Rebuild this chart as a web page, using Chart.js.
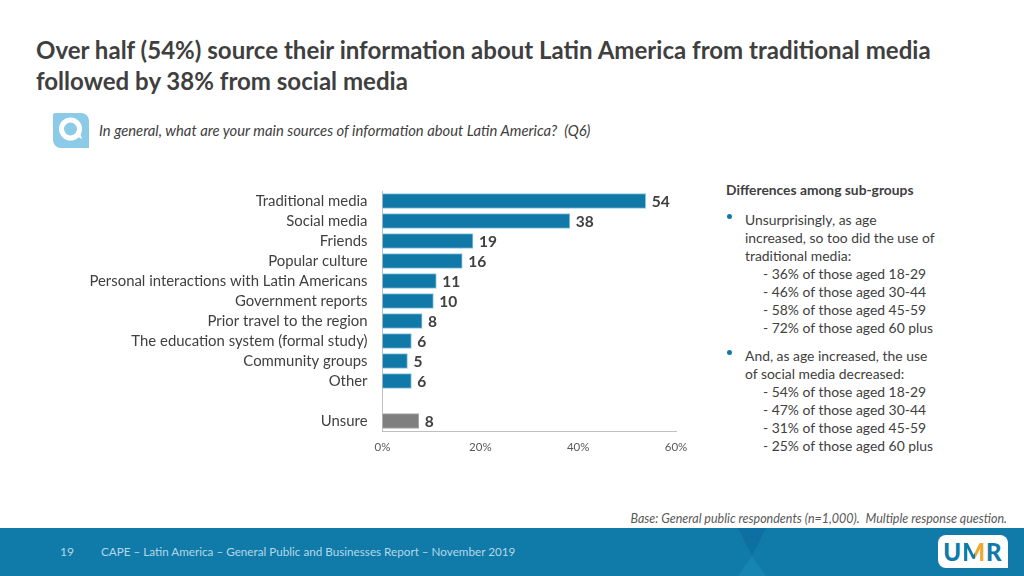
<!DOCTYPE html>
<html lang="en">

<head>
    <meta charset="UTF-8">
    <title>Latin America sources</title>
    <script src="https://cdn.jsdelivr.net/npm/chart.js"></script>
    <style>
        html, body { margin: 0; padding: 0; background: #fff; }
        body { width: 1024px; height: 576px; position: relative; overflow: hidden; font-family: Lato, sans-serif; color: #404040; }
        .abs { position: absolute; white-space: nowrap; }
        #title { left: 36px; top: 34px; font-size: 24.05px; line-height: 31px; font-weight: 700; color: #3f3f3f; }
        #question { left: 99px; top: 121px; font-size: 14.8px; font-style: italic; }
        #qicon { left: 53px; top: 113px; width: 36px; height: 35px; background: #8ccbe8; border-radius: 2px 8px 0 8px; }
        #myChart { position: absolute; left: 0; top: 180px; }
        #subhead { left: 726px; top: 181px; font-size: 13.8px; font-weight: 700; }
        .bullet { position: absolute; left: 727px; width: 5px; height: 5px; border-radius: 50%; background: #1079a8; }
        .note { position: absolute; white-space: nowrap; font-size: 13.9px; line-height: 18px; }
        #base { right: 17px; top: 511px; font-size: 12.5px; font-style: italic; color: #595959; }
        #footer { left: 0; top: 528px; width: 1024px; height: 48px; background: #107aa8; overflow: hidden; }
        #fold1 { position: absolute; left: 738px; top: 0; width: 28px; height: 28px; background: #0e6fa2; clip-path: polygon(0 0, 100% 0, 50% 100%); }
        #fold2 { position: absolute; left: 738px; top: 28px; width: 28px; height: 20px; background: #1785b2; clip-path: polygon(50% 0, 100% 100%, 0 100%); }
        #pageno { left: 60px; top: 544px; font-size: 12px; color: #b5d8e8; }
        #foottext { left: 101px; top: 544px; font-size: 11.7px; color: #b5d8e8; }
        #logo { left: 938px; top: 535px; width: 70px; height: 33px; background: #fff; border-radius: 8px 8px 0 8px; text-align: center; font-size: 24px; line-height: 33px; font-weight: 900; color: #107aa8; letter-spacing: 1px; }
        #logo span { background: linear-gradient(90deg, #107aa8 55%, #f2a72e 55%); -webkit-background-clip: text; background-clip: text; color: transparent; }
    </style>
</head>

<body>
    <div class="abs" id="title">Over half (54%) source their information about Latin America from traditional media<br>followed by 38% from social media</div>
    <div class="abs" id="qicon">
        <svg width="36" height="35" viewBox="0 0 36 35">
            <circle cx="17.5" cy="16" r="9" fill="none" stroke="#fff" stroke-width="5" />
            <path d="M21 22 L29 26 L27 20 Z" fill="#fff" />
        </svg>
    </div>
    <div class="abs" id="question">In general, what are your main sources of information about Latin America?&nbsp; (Q6)</div>

    <canvas id="myChart" width="700" height="280"></canvas>

    <div class="abs" id="subhead">Differences among sub-groups</div>
    <div class="bullet" style="top:214px"></div>
    <div class="note" id="note1" style="left:745px;top:211px"></div>
    <div class="bullet" style="top:350px"></div>
    <div class="note" id="note2" style="left:745px;top:347px"></div>

    <div class="abs" id="base">Base: General public respondents (n=1,000).&nbsp; Multiple response question.</div>
    <div class="abs" id="footer"><div id="fold1"></div><div id="fold2"></div></div>
    <div class="abs" id="pageno">19</div>
    <div class="abs" id="foottext">CAPE – Latin America – General Public and Businesses Report – November 2019</div>
    <div class="abs" id="logo">U<span>M</span>R</div>

    <script>
        const categories = ['Traditional media', 'Social media', 'Friends', 'Popular culture',
            'Personal interactions with Latin Americans', 'Government reports', 'Prior travel to the region',
            'The education system (formal study)', 'Community groups', 'Other', '', 'Unsure'];
        // bar lengths as measured, the printed numbers are rounded
        const values = [53.8, 38.3, 18.5, 16.3, 11, 10.4, 8.1, 5.9, 5.1, 5.9, null, 7.4];
        const valueLabels = ['54', '38', '19', '16', '11', '10', '8', '6', '5', '6', '', '8'];
        const barColors = ['#1079a8', '#1079a8', '#1079a8', '#1079a8', '#1079a8', '#1079a8', '#1079a8', '#1079a8', '#1079a8', '#1079a8', '#1079a8', '#7f7f7f'];
        const edgeColors = ['#8cc6e0', '#8cc6e0', '#8cc6e0', '#8cc6e0', '#8cc6e0', '#8cc6e0', '#8cc6e0', '#8cc6e0', '#8cc6e0', '#8cc6e0', '#8cc6e0', '#a6a6a6'];
        const xTicks = [0, 20, 40, 60];

        const note1 = ['Unsurprisingly, as age', 'increased, so too did the use of', 'traditional media:'];
        const note1Ages = ['- 36% of those aged 18-29', '- 46% of those aged 30-44', '- 58% of those aged 45-59', '- 72% of those aged 60 plus'];
        const note2 = ['And, as age increased, the use', 'of social media decreased:'];
        const note2Ages = ['- 54% of those aged 18-29', '- 47% of those aged 30-44', '- 31% of those aged 45-59', '- 25% of those aged 60 plus'];

        function fillNote(id, lines, ages) {
            let html = lines.map(l => `<div>${l}</div>`).join('');
            html += ages.map(l => `<div style="padding-left:18px">${l}</div>`).join('');
            document.getElementById(id).innerHTML = html;
        }
        fillNote('note1', note1, note1Ages);
        fillNote('note2', note2, note2Ages);

        // no datalabels plugin here, so the numbers get drawn by hand
        const barNumbers = {
            id: 'barNumbers',
            afterDatasetsDraw(chart) {
                const c = chart.ctx;
                const meta = chart.getDatasetMeta(0);
                c.save();
                c.font = '700 15.5px Lato';
                c.fillStyle = '#404040';
                c.textBaseline = 'middle';
                meta.data.forEach((bar, i) => {
                    if (values[i] === null) return;
                    c.fillText(valueLabels[i], bar.x + 6, bar.y + 1);
                });
                c.restore();
            }
        };

        const ctx = document.getElementById('myChart').getContext('2d');
        const myChart = new Chart(ctx, {
            type: 'bar',
            data: {
                labels: categories,
                datasets: [{
                    data: values,
                    backgroundColor: barColors,
                    borderColor: edgeColors,
                    borderWidth: 1,
                    barThickness: 15
                }]
            },
            plugins: [barNumbers],
            options: {
                indexAxis: 'y',
                responsive: false,
                animation: false,
                layout: { padding: { top: 11, right: 24, left: 0, bottom: 0 } },
                plugins: { legend: { display: false }, tooltip: { enabled: false } },
                scales: {
                    x: {
                        min: 0,
                        max: 60,
                        afterBuildTicks(scale) { scale.ticks = xTicks.map(v => ({ value: v })); },
                        afterFit(scale) { scale.height = 29; scale.paddingLeft = 0; scale.paddingRight = 0; },
                        grid: { display: false, drawTicks: false },
                        border: { color: '#bfbfbf' },
                        ticks: {
                            callback: v => v + '%',
                            font: { family: 'Lato', size: 11.5 },
                            color: '#595959',
                            maxRotation: 0,
                            padding: 9
                        }
                    },
                    y: {
                        afterFit(scale) { scale.width = 382.5; scale.paddingTop = 0; scale.paddingBottom = 0; },
                        grid: { display: false, drawTicks: false },
                        border: { color: '#bfbfbf' },
                        ticks: {
                            autoSkip: false,
                            font: { family: 'Lato', size: 14.9 },
                            color: '#404040',
                            padding: 15
                        }
                    }
                }
            }
        });
    </script>
</body>

</html>
